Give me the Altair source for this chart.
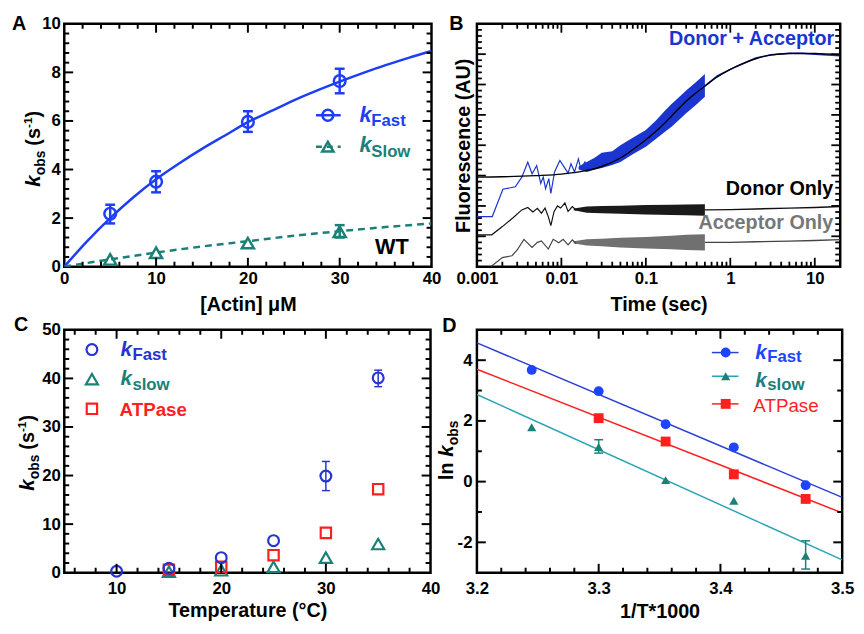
import math
import altair as alt
import pandas as pd

FONT = "Liberation Sans"

# ---------------- Panel A data ----------------
A_x = [5, 10, 20, 30]
A_fast = [2.18, 3.5, 5.96, 7.64]
A_fast_lo = [1.78, 3.06, 5.55, 7.14]
A_fast_hi = [2.55, 3.93, 6.40, 8.15]
A_slow = [0.30, 0.57, 0.97, 1.44]
A_slow_err_x = [30]
A_slow_lo = [1.20]
A_slow_hi = [1.71]
A_fit_x = [0, 2.5, 5, 7.5, 10, 12.5, 15, 17.5, 20, 22.5, 25, 27.5, 30, 32.5, 35, 37.5, 40]
A_fit_fast = [0, 1.05, 2.0, 2.85, 3.6, 4.25, 4.85, 5.4, 5.95, 6.4, 6.85, 7.25, 7.62, 7.97, 8.3, 8.6, 8.88]
A_fit_slow_x = [0, 5, 10, 15, 20, 25, 30, 35, 40]
A_fit_slow = [0, 0.3, 0.58, 0.83, 1.05, 1.27, 1.46, 1.63, 1.78]
A_xlabels = [0, 10, 20, 30, 40]
A_ylabels = [0, 2, 4, 6, 8, 10]
A_xmaj = [10, 20, 30]
A_xmin = [2, 4, 6, 8, 12, 14, 16, 18, 22, 24, 26, 28, 32, 34, 36, 38]
A_ymaj = [2, 4, 6, 8]
A_ymin = [0.4, 0.8, 1.2, 1.6, 2.4, 2.8, 3.2, 3.6, 4.4, 4.8, 5.2, 5.6,
          6.4, 6.8, 7.2, 7.6, 8.4, 8.8, 9.2, 9.6]

# ---------------- Panel B data ----------------
B_da_early_x = [0.001, 0.00152, 0.00203, 0.00285, 0.0034, 0.004, 0.0045, 0.0051, 0.0057, 0.0061,
                0.0065, 0.0071, 0.0075, 0.0083, 0.0096, 0.0108, 0.012, 0.013, 0.0143, 0.0159,
                0.017, 0.019, 0.021]
B_da_early_y = [1.65, 1.65, 2.55, 2.63, 2.95, 3.44, 3.06, 3.33, 2.74, 2.95,
                2.57, 2.9, 2.41, 3.12, 3.5, 3.28, 3.08, 3.39, 3.12, 3.55,
                3.22, 3.45, 3.18]
B_da_band_x = [0.016, 0.02, 0.025, 0.03, 0.04, 0.05, 0.07, 0.1, 0.13, 0.17, 0.2, 0.25, 0.3, 0.4, 0.5]
B_da_band_lo = [3.2, 3.12, 3.2, 3.25, 3.35, 3.45, 3.7, 3.95, 4.2, 4.45, 4.6, 4.85, 5.05, 5.35, 5.6]
B_da_band_hi = [3.3, 3.45, 3.6, 3.75, 3.8, 4.0, 4.25, 4.5, 4.8, 5.15, 5.35, 5.6, 5.8, 6.1, 6.35]
B_da_late_x = [0.5, 0.7, 1, 1.5, 2, 3, 5, 7, 10, 14, 20]
B_da_late_y = [5.95, 6.28, 6.5, 6.72, 6.87, 6.98, 7.03, 7.03, 7.0, 6.97, 6.95]
B_fit_x = [0.001, 0.002, 0.005, 0.01, 0.02, 0.03, 0.05, 0.07, 0.1, 0.15, 0.2, 0.3, 0.5,
           0.7, 1, 1.5, 2, 3, 5, 10, 20]
B_fit_y = [2.95, 2.96, 3.0, 3.05, 3.17, 3.3, 3.58, 3.85, 4.18, 4.6, 4.95, 5.45, 5.95,
           6.25, 6.5, 6.72, 6.85, 6.97, 7.02, 7.02, 6.97]
B_do_early_x = [0.001, 0.0015, 0.002, 0.0027, 0.0034, 0.004, 0.0046, 0.0052, 0.0058, 0.0064,
                0.007, 0.0075, 0.0082, 0.009, 0.0098, 0.011, 0.012, 0.0135, 0.015]
B_do_early_y = [1.05, 1.05, 1.32, 1.62, 1.87, 1.95, 1.8, 1.92, 1.76, 1.93,
                1.65, 1.35, 1.82, 2.0, 1.93, 2.1, 1.82, 1.98, 1.86]
B_do_band_x = [0.014, 0.02, 0.03, 0.05, 0.1, 0.2, 0.3, 0.5]
B_do_band_lo = [1.86, 1.78, 1.76, 1.74, 1.72, 1.7, 1.69, 1.68]
B_do_band_hi = [1.92, 1.98, 2.0, 2.01, 2.03, 2.04, 2.05, 2.06]
B_do_late_x = [0.5, 1, 2, 5, 10, 20]
B_do_late_y = [1.87, 1.88, 1.9, 1.93, 1.95, 1.98]
B_ac_early_x = [0.00146, 0.002, 0.0026, 0.003, 0.0036, 0.0045, 0.0052, 0.0058, 0.007,
                0.008, 0.0093, 0.0105, 0.012, 0.0135, 0.015]
B_ac_early_y = [0.0, 0.3, 0.36, 0.55, 0.9, 0.63, 0.8, 0.85, 0.58, 0.9, 0.79, 0.9, 0.72, 0.88, 0.76]
B_ac_band_x = [0.014, 0.02, 0.03, 0.05, 0.1, 0.2, 0.3, 0.5]
B_ac_band_lo = [0.76, 0.7, 0.67, 0.63, 0.6, 0.57, 0.55, 0.53]
B_ac_band_hi = [0.84, 0.9, 0.92, 0.95, 0.98, 1.02, 1.05, 1.07]
B_ac_late_x = [0.5, 1, 2, 5, 10, 20]
B_ac_late_y = [0.8, 0.8, 0.82, 0.84, 0.86, 0.89]
B_xlabels = [0.001, 0.01, 0.1, 1, 10]
B_xmaj = [0.01, 0.1, 1, 10]
B_xmin = [2e-3, 3e-3, 4e-3, 5e-3, 6e-3, 7e-3, 8e-3, 9e-3,
          0.02, 0.03, 0.04, 0.05, 0.06, 0.07, 0.08, 0.09,
          0.2, 0.3, 0.4, 0.5, 0.6, 0.7, 0.8, 0.9,
          2, 3, 4, 5, 6, 7, 8, 9]
B_ymaj = [1, 2, 3, 4, 5, 6, 7]
B_ymin = [0.2, 0.4, 0.6, 0.8, 1.2, 1.4, 1.6, 1.8, 2.2, 2.4, 2.6, 2.8, 3.2, 3.4, 3.6, 3.8,
          4.2, 4.4, 4.6, 4.8, 5.2, 5.4, 5.6, 5.8, 6.2, 6.4, 6.6, 6.8, 7.2, 7.4, 7.6, 7.8]

# ---------------- Panel C data ----------------
C_fast_x = [10, 15, 20, 25, 30, 35]
C_fast = [0.3, 0.9, 3.1, 6.6, 19.9, 40.1]
C_fast_err_x = [30, 35]
C_fast_lo = [16.9, 38.3]
C_fast_hi = [22.9, 41.7]
C_slow_x = [15, 20, 25, 30, 35]
C_slow = [0.2, 0.5, 1.2, 3.1, 5.9]
C_atp_x = [15, 20, 25, 30, 35]
C_atp = [0.6, 1.2, 3.6, 8.2, 17.2]
C_xlabels = [10, 20, 30, 40]
C_ylabels = [0, 10, 20, 30, 40, 50]
C_xmaj = [10, 20, 30]
C_xmin = [6, 8, 12, 14, 16, 18, 22, 24, 26, 28, 32, 34, 36, 38]
C_ymaj = [10, 20, 30, 40]
C_ymin = [2, 4, 6, 8, 12, 14, 16, 18, 22, 24, 26, 28, 32, 34, 36, 38, 42, 44, 46, 48]

# ---------------- Panel D data ----------------
D_x = [3.245, 3.300, 3.355, 3.411, 3.470]
D_fast = [3.68, 2.98, 1.89, 1.13, -0.12]
D_slow = [1.79, 1.14, 0.05, -0.63, -2.44]
D_slow_err_x = [3.300, 3.470]
D_slow_lo = [0.94, -2.88]
D_slow_hi = [1.38, -1.95]
D_atp_x = [3.300, 3.355, 3.411, 3.470]
D_atp = [2.09, 1.32, 0.24, -0.57]
D_line_x = [3.2, 3.5]
D_fast_line = [4.57, -0.52]
D_slow_line = [2.87, -2.58]
D_atp_line = [3.70, -1.03]
D_xlabels = [3.2, 3.3, 3.4, 3.5]
D_ylabels = [-2, 0, 2, 4]
D_xmaj = [3.3, 3.4]
D_xmin = [3.22, 3.24, 3.26, 3.28, 3.32, 3.34, 3.36, 3.38, 3.42, 3.44, 3.46, 3.48]
D_ymaj = [-2, 0, 2, 4]
D_ymin = [-1, 1, 3]

# ---------------- colours ----------------
A_BLUE = "#1c3ff5"
TEAL = "#1b8078"
C_BLUE = "#2634d0"
RED = "#ff1f1f"
D_BLUE = "#1f44ff"
D_BLUE_LINE = "#2a3fd6"
D_TEAL_LINE = "#2ba5b5"
B_BLUE = "#1a35d0"
B_GRAY = "#707070"

ONE = pd.DataFrame({"o": [0]})


def X(field, sc, axis=None):
    if axis is None:
        return alt.X(f"{field}:Q", scale=sc)
    return alt.X(f"{field}:Q", scale=sc, axis=axis)


def Y(field, sc, axis=None):
    if axis is None:
        return alt.Y(f"{field}:Q", scale=sc)
    return alt.Y(f"{field}:Q", scale=sc, axis=axis)


def txt(s, x, y, size, color="black", weight="bold", style="normal", angle=0,
        align="left", baseline="alphabetic"):
    mk = dict(text=s, fontSize=size, fontWeight=weight, fontStyle=style, color=color,
              align=align, baseline=baseline, font=FONT)
    if angle:
        mk["angle"] = angle
    return alt.Chart(ONE).mark_text(**mk).encode(x=alt.value(x), y=alt.value(y))


def seg(x1, x2, y, color, sw, dash=None, opacity=1):
    mk = dict(color=color, strokeWidth=sw, opacity=opacity)
    if dash:
        mk["strokeDash"] = dash
    return alt.Chart(ONE).mark_rule(**mk).encode(x=alt.value(x1), x2=alt.value(x2), y=alt.value(y))


def vseg(x, y1, y2, color, sw):
    return alt.Chart(ONE).mark_rule(color=color, strokeWidth=sw).encode(
        x=alt.value(x), x2=alt.value(x), y=alt.value(y1), y2=alt.value(y2))


def sym(x, y, shape, color, size, sw=2, filled=False):
    return alt.Chart(ONE).mark_point(shape=shape, color=color, size=size, strokeWidth=sw,
                                     filled=filled, opacity=1).encode(x=alt.value(x), y=alt.value(y))


def tick_layers(xdom, ydom, xlog, xmaj, xmin, ymaj, ymin, W, H, L1=9, L2=5, sw=2):
    """Inward frame ticks (decoration of the axes) on all four sides."""
    x0, x1 = xdom
    y0, y1 = ydom

    def px(v):
        if xlog:
            return W * math.log10(v / x0) / math.log10(x1 / x0)
        return W * (v - x0) / (x1 - x0)

    def py(v):
        return H - H * (v - y0) / (y1 - y0)

    out = []
    for vals, L in ((xmaj, L1), (xmin, L2)):
        for v in vals:
            p = px(v)
            out.append(vseg(p, H, H - L, "black", sw))
            out.append(vseg(p, 0, L, "black", sw))
    for vals, L in ((ymaj, L1), (ymin, L2)):
        for v in vals:
            p = py(v)
            out.append(seg(0, L, p, "black", sw))
            out.append(seg(W, W - L, p, "black", sw))
    return out


def line(xs, ys, xv, yv, color, sw, dash=None, interp=None, xaxis=None, yaxis=None):
    d = pd.DataFrame({"x": xv, "y": yv})
    mk = dict(color=color, strokeWidth=sw, clip=True)
    if dash:
        mk["strokeDash"] = dash
    if interp:
        mk["interpolate"] = interp
    return alt.Chart(d).mark_line(**mk).encode(x=X("x", xs, xaxis), y=Y("y", ys, yaxis))


def band(xs, ys, xv, lo, hi, color, opacity=1.0):
    d = pd.DataFrame({"x": xv, "lo": lo, "hi": hi})
    return alt.Chart(d).mark_area(color=color, opacity=opacity, clip=True).encode(
        x=X("x", xs), y=Y("lo", ys), y2="hi:Q")


def pts(xs, ys, xv, yv, shape, color, size, sw=2, filled=False, xaxis=None, yaxis=None):
    d = pd.DataFrame({"x": xv, "y": yv})
    return alt.Chart(d).mark_point(shape=shape, filled=filled, size=size, strokeWidth=sw,
                                   color=color, opacity=1).encode(
        x=X("x", xs, xaxis), y=Y("y", ys, yaxis))


def errbars(xs, ys, xv, lo, hi, color, cap, sw):
    d = pd.DataFrame({"x": xv, "lo": lo, "hi": hi})
    r = alt.Chart(d).mark_rule(color=color, strokeWidth=sw).encode(
        x=X("x", xs), y=Y("lo", ys), y2="hi:Q")
    t1 = alt.Chart(d).mark_tick(color=color, orient="horizontal", size=cap, thickness=sw,
                                opacity=1).encode(x=X("x", xs), y=Y("lo", ys))
    t2 = alt.Chart(d).mark_tick(color=color, orient="horizontal", size=cap, thickness=sw,
                                opacity=1).encode(x=X("x", xs), y=Y("hi", ys))
    return [r, t1, t2]


def kobs_title(xb, y0):
    # rotated "k_obs (s^-1)"
    return [
        txt("k", xb, y0, 21, style="italic", angle=270),
        txt("obs", xb + 5, y0 - 11.7, 14, angle=270),
        txt("(s", xb, y0 - 41.6, 20, angle=270),
        txt("-1", xb - 8, y0 - 59.4, 12, angle=270),
        txt(")", xb, y0 - 70.1, 20, angle=270),
    ]


H = 246
MID = H / 247.0

# ---------------- Panel A ----------------
WA = 372
A_xdom, A_ydom = [0, 40], [0, 10]
xsA = alt.Scale(domain=A_xdom, nice=False, zero=False)
ysA = alt.Scale(domain=A_ydom, nice=False, zero=False)
axA_x = alt.Axis(values=A_xlabels, title="[Actin] μM", labelPadding=4, titlePadding=8)
axA_y = alt.Axis(values=A_ylabels, title=None, labelPadding=4)
layersA = [line(xsA, ysA, A_fit_x, A_fit_fast, A_BLUE, 2.5, interp="monotone", xaxis=axA_x, yaxis=axA_y)]
layersA += [line(xsA, ysA, A_fit_slow_x, A_fit_slow, TEAL, 2.5, dash=[7, 5], interp="monotone")]
layersA += errbars(xsA, ysA, A_x, A_fast_lo, A_fast_hi, A_BLUE, 10, 2.5)
layersA += errbars(xsA, ysA, A_slow_err_x, A_slow_lo, A_slow_hi, TEAL, 10, 2.5)
layersA += [
    pts(xsA, ysA, A_x, A_fast, "circle", A_BLUE, 140, 2.5),
    pts(xsA, ysA, A_x, A_slow, "triangle-up", TEAL, 150, 2.5),
    seg(255, 280, 93 * MID, A_BLUE, 2.5),
    sym(267, 93 * MID, "circle", A_BLUE, 120, 2.5),
    seg(255, 280, 125 * MID, TEAL, 2.5, dash=[6, 5]),
    sym(267, 125 * MID, "triangle-up", TEAL, 130, 2.5),
    txt("k", 299, 100 * MID, 22, color=A_BLUE, style="italic"),
    txt("Fast", 311, 104 * MID, 17, color=A_BLUE),
    txt("k", 299, 130 * MID, 22, color=TEAL, style="italic"),
    txt("Slow", 311, 135 * MID, 17, color=TEAL),
    txt("WT", 349, 233, 22, align="right"),
    txt("A", -53, 0, 20, baseline="middle"),
]
layersA += kobs_title(-25, 165)
layersA += tick_layers(A_xdom, A_ydom, False, A_xmaj, A_xmin, A_ymaj, A_ymin, WA, H)
panelA = alt.layer(*layersA).properties(width=WA, height=H)

# ---------------- Panel B ----------------
WB = 368
B_xdom, B_ydom = [0.001, 20], [0, 8]
xsB = alt.Scale(type="log", domain=B_xdom, nice=False)
ysB = alt.Scale(domain=B_ydom, nice=False, zero=False)
axB_x = alt.Axis(values=B_xlabels, format="~g", title="Time (sec)", labelPadding=4, titlePadding=8)
axB_y = alt.Axis(labels=False, title="Fluorescence (AU)", titlePadding=4)
layersB = [line(xsB, ysB, B_da_early_x, B_da_early_y, B_BLUE, 1.2, xaxis=axB_x, yaxis=axB_y)]
layersB += [
    band(xsB, ysB, B_da_band_x, B_da_band_lo, B_da_band_hi, B_BLUE),
    line(xsB, ysB, B_da_late_x, B_da_late_y, B_BLUE, 1.6),
    line(xsB, ysB, B_fit_x, B_fit_y, "black", 1.4, interp="monotone"),
    band(xsB, ysB, B_do_band_x, B_do_band_lo, B_do_band_hi, "#1a1a1a"),
    line(xsB, ysB, B_do_early_x, B_do_early_y, "#111111", 1.2),
    line(xsB, ysB, B_do_late_x, B_do_late_y, "#111111", 1.4),
    band(xsB, ysB, B_ac_band_x, B_ac_band_lo, B_ac_band_hi, B_GRAY),
    line(xsB, ysB, B_ac_early_x, B_ac_early_y, "#444444", 1.2),
    line(xsB, ysB, B_ac_late_x, B_ac_late_y, "#444444", 1.4),
    txt("Donor + Acceptor", 362, 21, 20, color=B_BLUE, align="right"),
    txt("Donor Only", 361, 173, 20, align="right"),
    txt("Acceptor Only", 361, 208, 20, color="#777777", align="right"),
    txt("B", -28, 0, 20, baseline="middle"),
]
layersB += tick_layers(B_xdom, B_ydom, True, B_xmaj, B_xmin, B_ymaj, B_ymin, WB, H, sw=1.8)
panelB = alt.layer(*layersB).properties(width=WB, height=H)

# ---------------- Panel C ----------------
WC = 371
C_xdom, C_ydom = [5, 40], [0, 50]
xsC = alt.Scale(domain=C_xdom, nice=False, zero=False)
ysC = alt.Scale(domain=C_ydom, nice=False, zero=False)
axC_x = alt.Axis(values=C_xlabels, title="Temperature (°C)", labelPadding=8, titlePadding=4)
axC_y = alt.Axis(values=C_ylabels, title=None, labelPadding=4)
layersC = [pts(xsC, ysC, C_slow_x, C_slow, "triangle-up", TEAL, 150, 2.2, xaxis=axC_x, yaxis=axC_y)]
layersC += errbars(xsC, ysC, C_fast_err_x, C_fast_lo, C_fast_hi, C_BLUE, 8, 1.5)
layersC += [
    pts(xsC, ysC, C_atp_x, C_atp, "square", RED, 110, 2.2),
    pts(xsC, ysC, C_fast_x, C_fast, "circle", C_BLUE, 120, 2.2),
    sym(28, 20, "circle", C_BLUE, 120, 2.2),
    sym(28, 50, "triangle-up", TEAL, 150, 2.2),
    sym(28, 80, "square", RED, 110, 2.2),
    txt("k", 57, 26, 21, color=C_BLUE, style="italic"),
    txt("Fast", 69, 31, 17, color=C_BLUE),
    txt("k", 57, 56, 21, color=TEAL, style="italic"),
    txt("slow", 69, 61, 17, color=TEAL),
    txt("ATPase", 56, 87, 19, color=RED),
    txt("C", -51, -5, 20, baseline="middle"),
]
layersC += kobs_title(-31, 163)
layersC += tick_layers(C_xdom, C_ydom, False, C_xmaj, C_xmin, C_ymaj, C_ymin, WC, H)
panelC = alt.layer(*layersC).properties(width=WC, height=H)

# ---------------- Panel D ----------------
WD = 370
D_xdom, D_ydom = [3.2, 3.5], [-3, 5]
xsD = alt.Scale(domain=D_xdom, nice=False, zero=False)
ysD = alt.Scale(domain=D_ydom, nice=False, zero=False)
axD_x = alt.Axis(values=D_xlabels, format=".1f", title="1/T*1000", labelPadding=8, titlePadding=5)
axD_y = alt.Axis(values=D_ylabels, labelExpr="'' + datum.value", title=None, labelPadding=5)
layersD = [line(xsD, ysD, D_line_x, D_fast_line, D_BLUE_LINE, 1.5, xaxis=axD_x, yaxis=axD_y)]
layersD += [
    line(xsD, ysD, D_line_x, D_atp_line, RED, 1.5),
    line(xsD, ysD, D_line_x, D_slow_line, D_TEAL_LINE, 1.5),
]
layersD += errbars(xsD, ysD, D_slow_err_x, D_slow_lo, D_slow_hi, TEAL, 9, 1.5)
layersD += [
    pts(xsD, ysD, D_x, D_fast, "circle", D_BLUE, 100, 0, filled=True),
    pts(xsD, ysD, D_atp_x, D_atp, "square", RED, 100, 0, filled=True),
    pts(xsD, ysD, D_x, D_slow, "triangle-up", TEAL, 85, 0, filled=True),
    seg(238, 265, 23, D_BLUE_LINE, 1.5),
    sym(252, 23, "circle", D_BLUE, 100, 0, filled=True),
    seg(238, 265, 47, D_TEAL_LINE, 1.5),
    sym(252, 47, "triangle-up", TEAL, 85, 0, filled=True),
    seg(238, 265, 75, RED, 1.5),
    sym(252, 75, "square", RED, 100, 0, filled=True),
    txt("k", 282, 30, 21, color=D_BLUE, style="italic"),
    txt("Fast", 294, 33, 17, color=D_BLUE),
    txt("k", 282, 58, 21, color=TEAL, style="italic"),
    txt("slow", 294, 61, 17, color=TEAL),
    txt("ATPase", 280, 83, 19, color=RED, weight="normal"),
    txt("D", -35, -4, 20, baseline="middle"),
    txt("ln", -24, 152, 20, angle=270),
    txt("k", -24, 128.6, 21, style="italic", angle=270),
    txt("obs", -19, 116.9, 14, angle=270),
]
layersD += tick_layers(D_xdom, D_ydom, False, D_xmaj, D_xmin, D_ymaj, D_ymin, WD, H)
panelD = alt.layer(*layersD).properties(width=WD, height=H)

chart = alt.concat(panelA, panelB, panelC, panelD, columns=2,
                   spacing={"row": 64, "column": 46}, bounds="flush").properties(
    padding={"left": 2, "top": 0, "right": 0, "bottom": 0}
).configure_view(stroke="black", strokeWidth=2.5).configure_axis(
    labelFont=FONT, labelFontSize=17, labelFontWeight="bold", labelColor="black",
    titleFont=FONT, titleFontSize=20, titleFontWeight="bold", titleColor="black",
    grid=False, ticks=False, tickSize=0, domain=False, labelFlush=False, labelOverlap=False,
)

chart.save("out.html", embed_options={"renderer": "svg", "actions": False})
